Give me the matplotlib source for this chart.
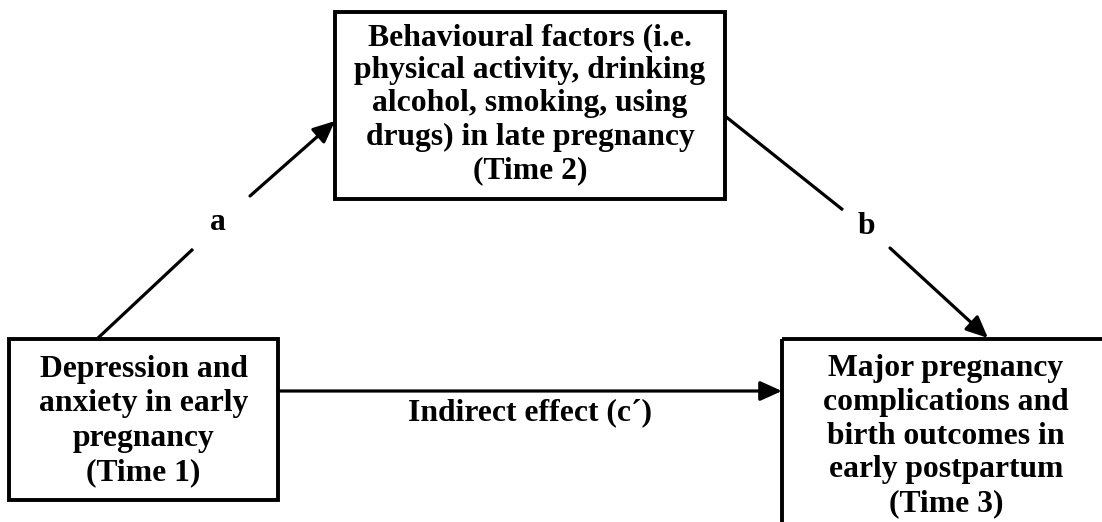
import matplotlib
matplotlib.use("Agg")
import matplotlib.pyplot as plt
from matplotlib.patches import Rectangle

# ---- content ----
node_labels = [
    "Depression and\nanxiety in early\npregnancy\n(Time 1)",
    "Behavioural factors (i.e.\nphysical activity, drinking\nalcohol, smoking, using\ndrugs) in late pregnancy\n(Time 2)",
    "Major pregnancy\ncomplications and\nbirth outcomes in\nearly postpartum\n(Time 3)",
]
path_labels = ["a", "b", "Indirect effect (c\u00b4)"]

W, H = 1102, 522
fig = plt.figure(figsize=(W / 100, H / 100), dpi=100)
ax = fig.add_axes([0, 0, 1, 1])
ax.set_xlim(0, W)
ax.set_ylim(H, 0)
ax.axis("off")

FONT = "Liberation Serif"
FS = 22.8
LW_BOX = 2.8
LW_LINE = 2.3

# boxes: (x0, y0, x1, y1)
boxes = [(9, 339, 278, 500), (335, 12, 725, 199), (782, 339, 1120, 540)]
text_centers = [(143.5, 421), (530, 104), (946, 436)]
spacings = [1.24, 1.19, 1.22]
for (x0, y0, x1, y1), (cx, cy), lab, ls in zip(boxes, text_centers, node_labels, spacings):
    ax.add_patch(Rectangle((x0, y0), x1 - x0, y1 - y0, fill=False,
                           edgecolor="black", linewidth=LW_BOX, clip_on=True))
    ax.text(cx, cy, lab, ha="center", va="center", multialignment="center",
            fontsize=FS, fontweight="bold", family=FONT, linespacing=ls)

def seg(p, q):
    ax.plot([p[0], q[0]], [p[1], q[1]], color="black", lw=LW_LINE,
            solid_capstyle="butt")

def arrow(p, q):
    ax.annotate("", xy=q, xytext=p,
                arrowprops=dict(arrowstyle="-|>,head_length=0.6,head_width=0.27",
                                color="black", lw=LW_LINE,
                                mutation_scale=22, shrinkA=0, shrinkB=0))

# path a
seg((98, 338), (193, 249))
arrow((250, 196), (335, 121))
ax.text(218, 222, path_labels[0], ha="center", va="center",
        fontsize=FS, fontweight="bold", family=FONT)

# path b
seg((725, 116), (843, 210))
arrow((890, 248), (988, 338))
ax.text(866, 226, path_labels[1], ha="center", va="center",
        fontsize=FS, fontweight="bold", family=FONT)

# direct path c'
arrow((278, 391), (782, 391))
ax.text(530, 413, path_labels[2], ha="center", va="center",
        fontsize=FS, fontweight="bold", family=FONT)

fig.savefig("out.png", dpi=100)
